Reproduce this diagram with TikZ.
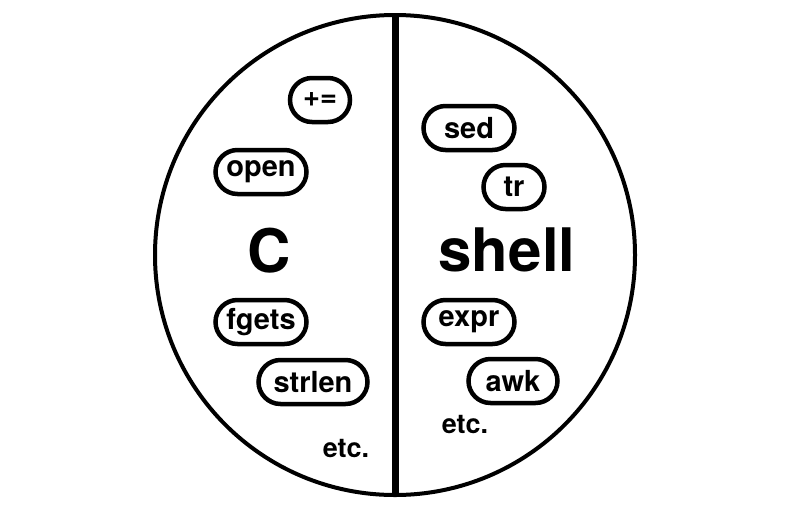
\documentclass[tikz,border=0pt]{standalone}
\usepackage{fontspec}
\setmainfont{TeX Gyre Heros}
\begin{document}
\begin{tikzpicture}[x=1pt,y=-1pt,
  pill/.style={draw,line width=4.5pt,rounded corners=22pt,minimum height=44pt,inner sep=0pt,font=\fontsize{29}{29}\selectfont\bfseries},
  big/.style={font=\fontsize{60}{60}\selectfont\bfseries,inner sep=0pt},
  etcl/.style={font=\fontsize{27}{27}\selectfont\bfseries,inner sep=0pt}]
\useasboundingbox (0,0) rectangle (800,504);
\node[draw,circle,line width=4pt,minimum size=480pt,inner sep=0pt] (circ) at (395,255) {};
\draw[line width=7pt] (circ.north) -- (circ.south);
% left side
\node[pill,minimum width=60pt] (pluseq) at (320,100) {+=};
\node[pill,minimum width=91pt] (open) at (261,172) {open};
\node[big] (c) at (269,251) {C};
\node[pill,minimum width=91pt] (fgets) at (261,322) {fgets};
\node[pill,minimum width=109pt] (strlen) at (313,382) {strlen};
\node[etcl] (etcL) at (346,449) {etc.};
% right side
\node[pill,minimum width=91pt] (sed) at (469,128) {sed};
\node[pill,minimum width=61pt] (tr) at (514,187) {tr};
\node[big] (shell) at (507,250) {shell};
\node[pill,minimum width=91pt] (expr) at (469,322) {expr};
\node[pill,minimum width=89pt] (awk) at (513,381) {awk};
\node[etcl] (etcR) at (465,425) {etc.};
\end{tikzpicture}
\end{document}
